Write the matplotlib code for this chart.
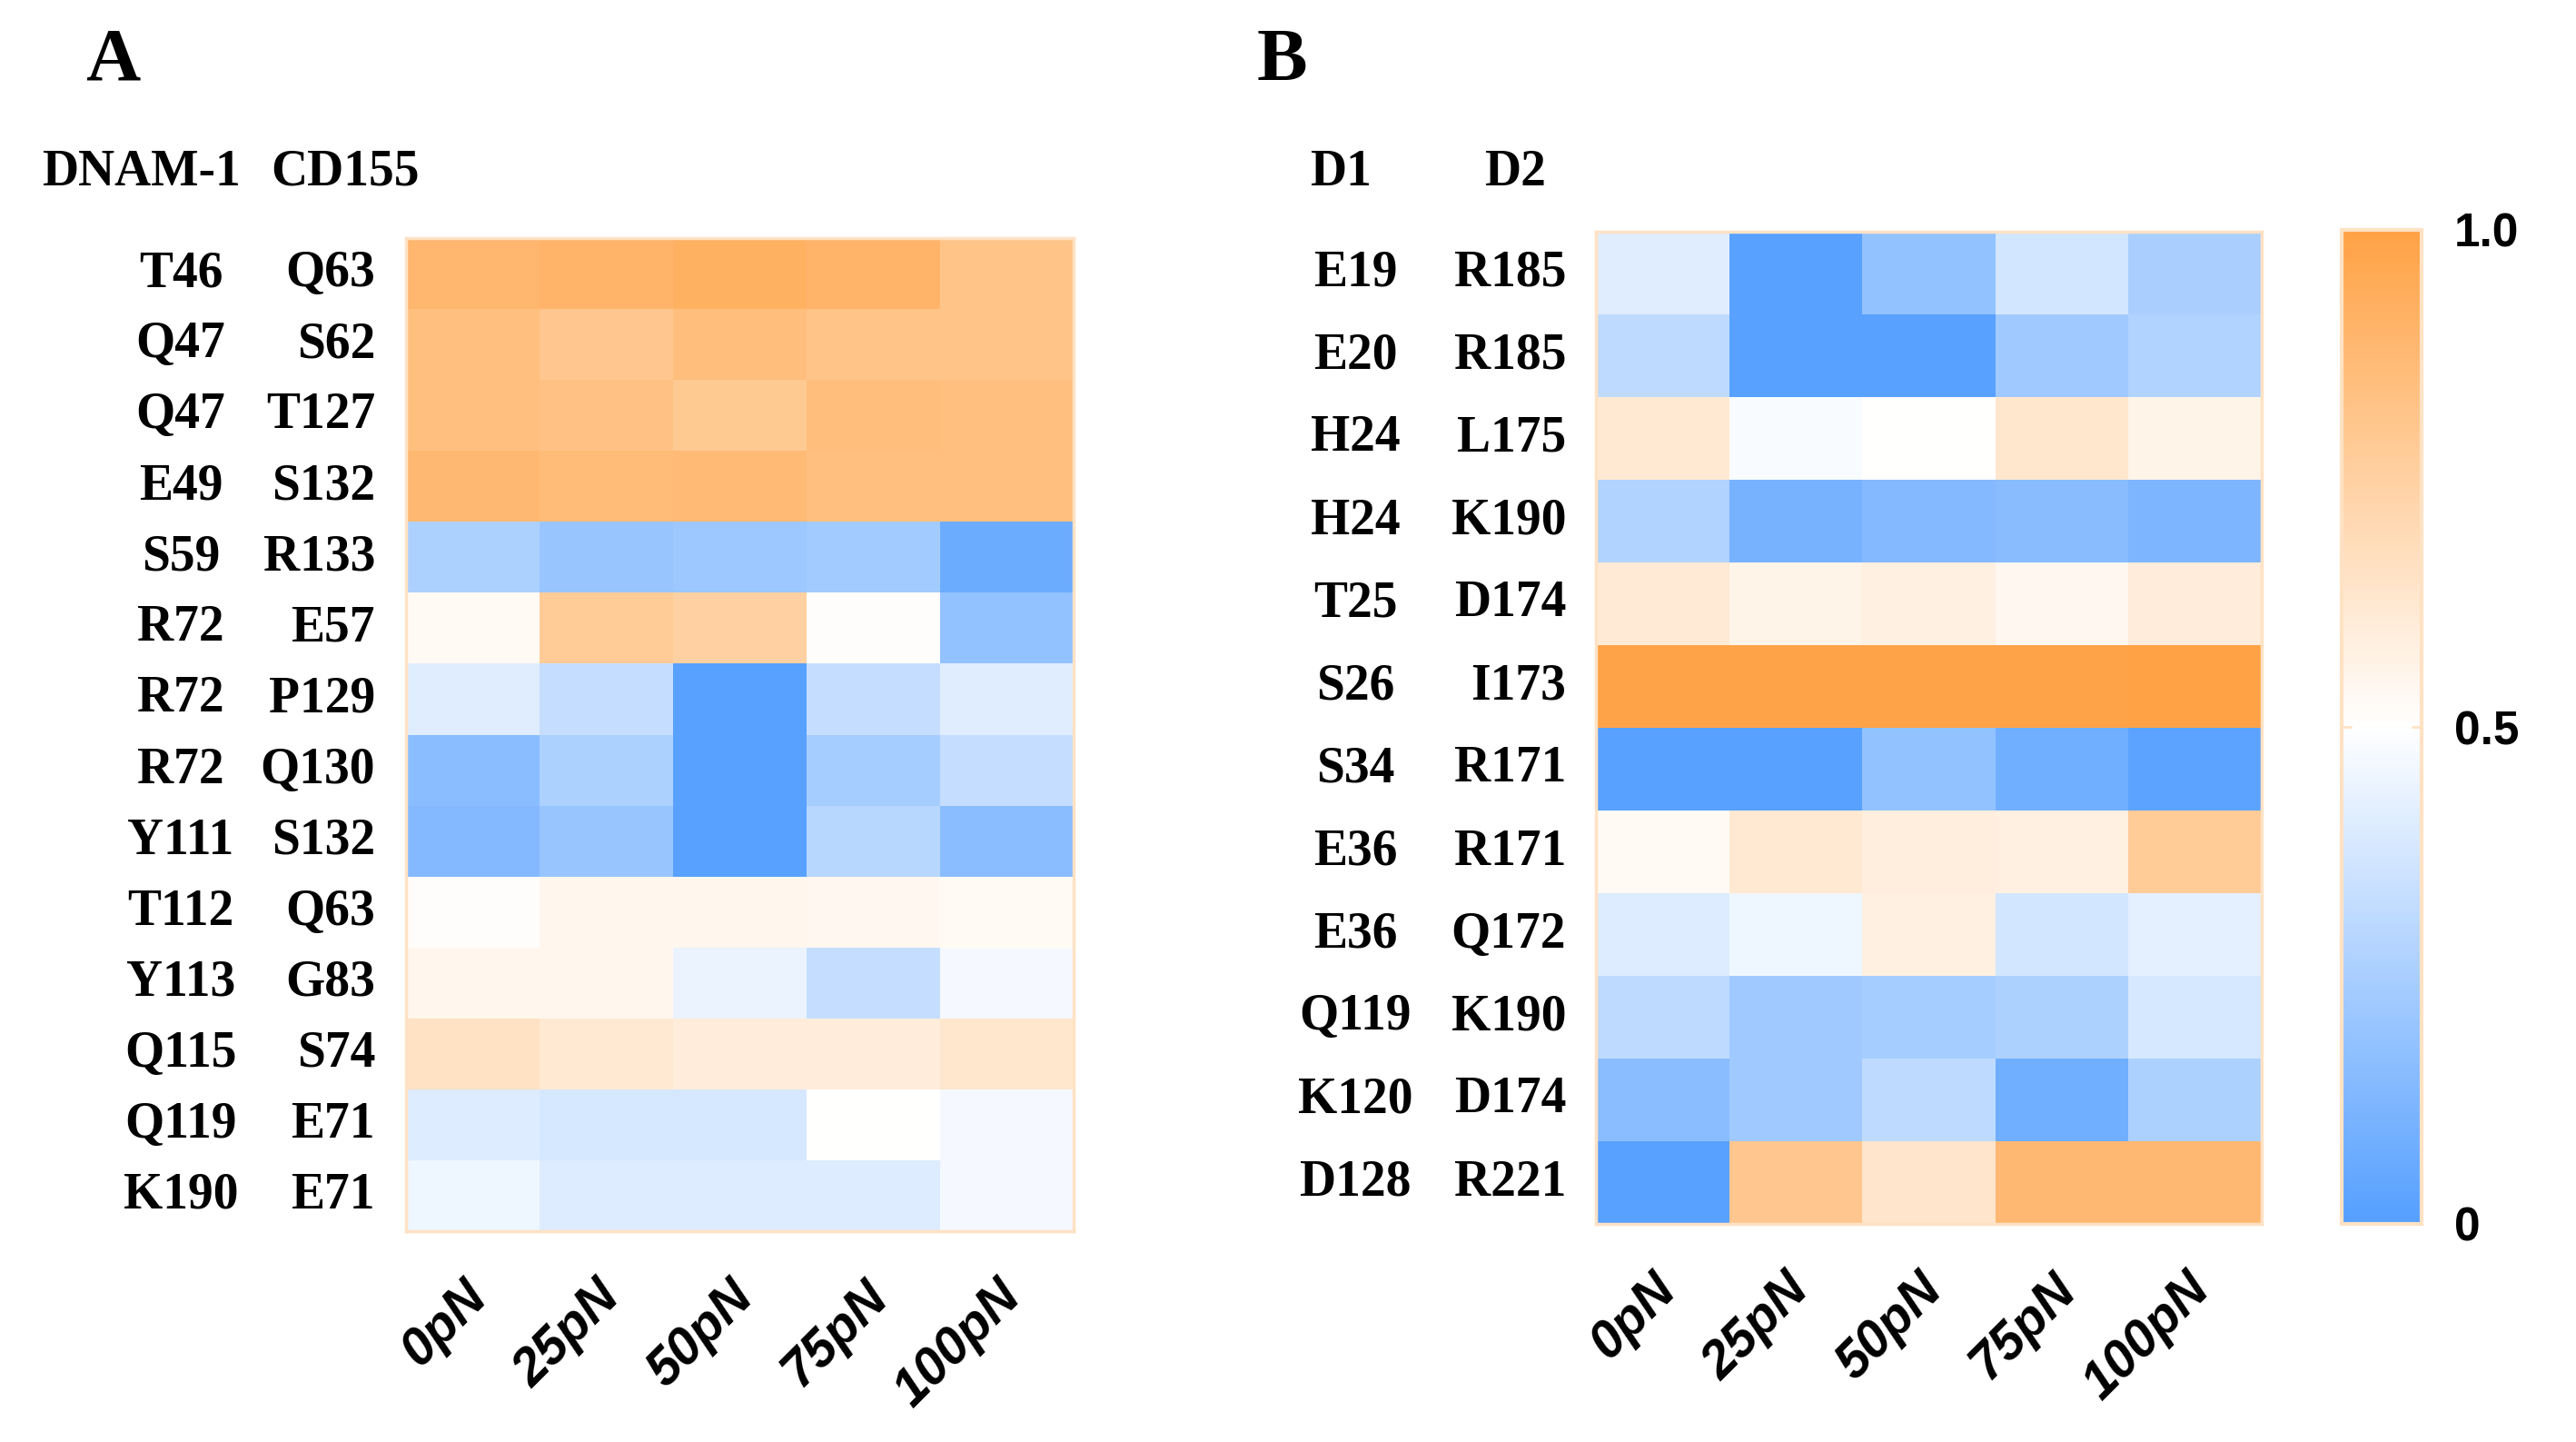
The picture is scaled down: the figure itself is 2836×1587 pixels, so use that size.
import numpy as np
import matplotlib
matplotlib.use("Agg")
import matplotlib.pyplot as plt
from matplotlib.colors import LinearSegmentedColormap
from matplotlib import transforms

# ---------------- data ----------------
forces = ["0pN", "25pN", "50pN", "75pN", "100pN"]

a_dnam1 = ["T46", "Q47", "Q47", "E49", "S59", "R72", "R72", "R72", "Y111", "T112", "Y113", "Q115", "Q119", "K190"]
a_cd155 = ["Q63", "S62", "T127", "S132", "R133", "E57", "P129", "Q130", "S132", "Q63", "G83", "S74", "E71", "E71"]
a_values = [
    [0.89, 0.90, 0.92, 0.90, 0.82],
    [0.84, 0.80, 0.85, 0.82, 0.82],
    [0.84, 0.83, 0.79, 0.85, 0.84],
    [0.88, 0.86, 0.87, 0.84, 0.84],
    [0.26, 0.20, 0.21, 0.23, 0.07],
    [0.53, 0.78, 0.75, 0.51, 0.18],
    [0.41, 0.33, 0.01, 0.33, 0.41],
    [0.16, 0.26, 0.01, 0.24, 0.33],
    [0.14, 0.20, 0.01, 0.29, 0.16],
    [0.51, 0.55, 0.55, 0.54, 0.53],
    [0.55, 0.55, 0.44, 0.33, 0.47],
    [0.66, 0.62, 0.60, 0.60, 0.63],
    [0.40, 0.38, 0.38, 0.50, 0.47],
    [0.45, 0.40, 0.40, 0.40, 0.47],
]

b_d1 = ["E19", "E20", "H24", "H24", "T25", "S26", "S34", "E36", "E36", "Q119", "K120", "D128"]
b_d2 = ["R185", "R185", "L175", "K190", "D174", "I173", "R171", "R171", "Q172", "K190", "D174", "R221"]
b_values = [
    [0.41, 0.01, 0.18, 0.37, 0.25],
    [0.31, 0.01, 0.01, 0.22, 0.27],
    [0.62, 0.48, 0.50, 0.63, 0.56],
    [0.27, 0.10, 0.14, 0.15, 0.12],
    [0.61, 0.56, 0.58, 0.54, 0.60],
    [0.99, 0.99, 0.99, 0.99, 1.00],
    [0.01, 0.01, 0.18, 0.08, 0.02],
    [0.53, 0.62, 0.59, 0.58, 0.78],
    [0.40, 0.45, 0.58, 0.37, 0.42],
    [0.31, 0.22, 0.24, 0.26, 0.38],
    [0.16, 0.22, 0.31, 0.08, 0.26],
    [0.01, 0.80, 0.64, 0.88, 0.88],
]

cbar_ticks = [0, 0.5, 1.0]
cbar_ticklabels = ["0", "0.5", "1.0"]

# ---------------- style ----------------
W, H = 2836, 1587
DPI = 100
cmap = LinearSegmentedColormap.from_list(
    "bwo", [(0.0, "#559FFF"), (0.5, "#FFFFFF"), (1.0, "#FFA245")])
edge_col = "#FFE2C4"
serif = ["Liberation Serif", "DejaVu Serif"]
sans = ["Liberation Sans", "DejaVu Sans"]
lab_fs = 40
tick_fs = 41

fig = plt.figure(figsize=(W / DPI, H / DPI), dpi=DPI)


def fx(px):
    return px / W


def fy(py):
    return 1 - py / H


def make_heatmap(left, right, top, bottom, values, col1, col2, col1_x, col1_ha,
                 col2_x, head1, head2, head1_x, head2_x, letter, letter_x):
    ax = fig.add_axes([fx(left), fy(bottom), fx(right - left), (bottom - top) / H])
    data = np.array(values)
    n, m = data.shape
    im = ax.pcolormesh(data, cmap=cmap, vmin=0, vmax=1, edgecolors="none",
                       antialiased=False)
    ax.set_ylim(n, 0)
    ax.set_xlim(0, m)
    ax.set_yticks([])
    ax.set_xticks([])
    # rotated column labels, top-right corner just below each column centre
    xtr = transforms.blended_transform_factory(ax.transData, ax.transAxes) + \
        transforms.ScaledTranslation(26 / DPI, -45 / DPI, fig.dpi_scale_trans)
    for j, f in enumerate(forces):
        ax.text(j + 0.5, 0, f, transform=xtr, rotation=45, ha="right", va="top",
                fontsize=tick_fs, fontweight="bold", fontstyle="italic",
                family=sans, clip_on=False)
    for s in ax.spines.values():
        s.set_color(edge_col)
        s.set_linewidth(2.5)
    tr = transforms.blended_transform_factory(fig.transFigure, ax.transData)
    for i in range(n):
        ax.text(fx(col1_x), i + 0.5, col1[i], transform=tr, ha=col1_ha,
                va="center", fontsize=lab_fs, fontweight="bold", family=serif)
        ax.text(fx(col2_x), i + 0.5, col2[i], transform=tr, ha="right",
                va="center", fontsize=lab_fs, fontweight="bold", family=serif)
    fig.text(fx(head1_x), fy(190), head1, ha="left", va="center",
             fontsize=lab_fs, fontweight="bold", family=serif)
    fig.text(fx(head2_x), fy(190), head2, ha="left", va="center",
             fontsize=lab_fs, fontweight="bold", family=serif)
    fig.text(fx(letter_x), fy(68), letter, ha="left", va="center",
             fontsize=60, fontweight="bold", family=serif)
    return ax, im


axA, imA = make_heatmap(447, 1182, 262, 1355, a_values, a_dnam1, a_cd155,
                        199, "center", 413, "DNAM-1", "CD155", 46, 298, "A", 94)
axB, imB = make_heatmap(1757, 2490, 255, 1347, b_values, b_d1, b_d2,
                        1492, "center", 1724, "D1", "D2", 1442, 1634, "B", 1384)

cax = fig.add_axes([fx(2578), fy(1347), fx(88), (1347 - 253) / H])
cb = fig.colorbar(imB, cax=cax, ticks=cbar_ticks)
cb.ax.set_yticklabels(cbar_ticklabels)
for lbl in cb.ax.get_yticklabels():
    lbl.set_fontsize(37)
    lbl.set_fontweight("bold")
    lbl.set_family(sans)
cb.ax.tick_params(axis="y", length=8, width=2, color=edge_col, direction="in",
                  pad=26, left=True, right=True)
cb.outline.set_edgecolor(edge_col)
cb.outline.set_linewidth(3)

fig.savefig("out.png", dpi=DPI)
